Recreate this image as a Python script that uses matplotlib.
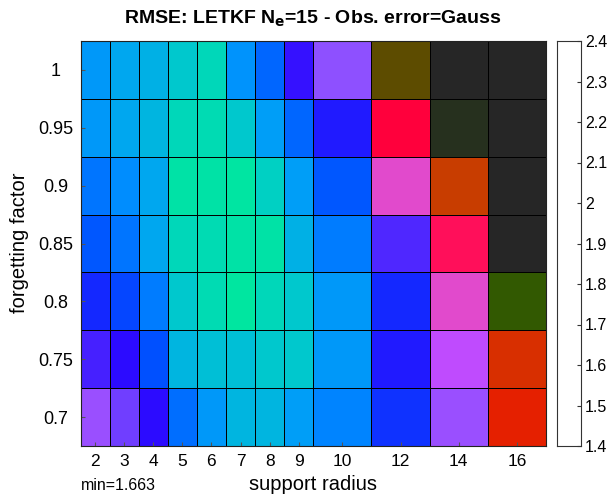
import numpy as np
import matplotlib
matplotlib.use("Agg")
import matplotlib.pyplot as plt
from matplotlib.colors import LinearSegmentedColormap, Normalize

plt.rcParams['font.family'] = ['Liberation Sans', 'DejaVu Sans']

radius = [2, 3, 4, 5, 6, 7, 8, 9, 10, 12, 14, 16]
forget = [1, 0.95, 0.9, 0.85, 0.8, 0.75, 0.7]

rmse = np.array([
    [1.84, 1.81, 1.79, 1.74, 1.70, 1.85, 1.91, 2.03, 2.10, 2.38, 2.50, 2.50],
    [1.84, 1.81, 1.78, 1.70, 1.69, 1.74, 1.83, 1.91, 2.00, 2.26, 2.46, 2.50],
    [1.89, 1.86, 1.81, 1.67, 1.67, 1.665, 1.72, 1.83, 1.93, 2.18, 2.34, 2.50],
    [1.93, 1.89, 1.81, 1.70, 1.69, 1.67, 1.67, 1.79, 1.88, 2.06, 2.22, 2.50],
    [1.98, 1.95, 1.88, 1.74, 1.69, 1.663, 1.70, 1.74, 1.84, 1.98, 2.18, 2.42],
    [2.05, 2.02, 1.94, 1.78, 1.76, 1.76, 1.74, 1.74, 1.84, 2.00, 2.14, 2.32],
    [2.11, 2.08, 2.02, 1.90, 1.84, 1.78, 1.78, 1.83, 1.87, 1.97, 2.11, 2.30],
])

cbar_ticks = [1.4, 1.5, 1.6, 1.7, 1.8, 1.9, 2.0, 2.1, 2.2, 2.3, 2.4]
cbar_labels = ['1.4', '1.5', '1.6', '1.7', '1.8', '1.9', '2', '2.1', '2.2', '2.3', '2.4']

# custom colour map (value, rgb)
anchors = [
    (1.66, (0, 230, 160)), (1.70, (0, 215, 185)), (1.74, (0, 200, 205)),
    (1.78, (0, 180, 225)), (1.82, (0, 162, 245)), (1.86, (0, 140, 255)),
    (1.90, (0, 110, 255)), (1.94, (0, 80, 255)), (1.98, (20, 40, 255)),
    (2.02, (45, 10, 255)), (2.06, (80, 40, 255)), (2.10, (140, 80, 255)),
    (2.14, (190, 75, 255)), (2.18, (225, 75, 205)), (2.22, (255, 15, 90)),
    (2.26, (255, 0, 60)), (2.30, (230, 30, 0)), (2.34, (205, 60, 0)),
    (2.38, (95, 75, 0)), (2.42, (50, 90, 0)), (2.46, (38, 48, 30)),
    (2.50, (38, 38, 38)),
]
vmin, vmax = anchors[0][0], anchors[-1][0]
cmap = LinearSegmentedColormap.from_list(
    'custom', [((v - vmin) / (vmax - vmin), tuple(c / 255 for c in col)) for v, col in anchors])

fig = plt.figure(figsize=(6.1, 4.95), dpi=100)
ax = fig.add_axes([80.5 / 610, 1 - 446 / 495, (546 - 80.5) / 610, (446 - 41) / 495])

widths = [1 if r < 10 else 2 for r in radius]
xedges = np.concatenate([[0], np.cumsum(widths)])
xcent = (xedges[:-1] + xedges[1:]) / 2
yedges = np.arange(len(forget) + 1)
ycent = yedges[:-1] + 0.5

ax.pcolormesh(xedges, yedges, rmse, cmap=cmap, norm=Normalize(vmin, vmax),
              edgecolors='black', linewidth=0.6)
ax.set_xlim(xedges[0], xedges[-1])
ax.set_ylim(yedges[-1], yedges[0])
ax.set_xticks(xcent)
ax.set_xticklabels([str(r) for r in radius], fontsize=12.5)
ax.set_yticks(ycent)
ax.set_yticklabels([('%g' % f) for f in forget], fontsize=13, ha='center')
ax.tick_params(direction='in', length=3, color='#555555')
ax.tick_params(axis='x', pad=6)
ax.tick_params(axis='y', pad=18)
for s in ax.spines.values():
    s.set_color('#222222')
    s.set_linewidth(0.8)
fig.text(313 / 610, 1 - 485 / 495, 'support radius', fontsize=14.5, ha='center', va='center')
fig.text(20 / 610, 1 - 243 / 495, 'forgetting factor', fontsize=14.5, ha='center', va='center',
         rotation=90)
fig.text(313 / 610, 1 - 19 / 495, r'RMSE: LETKF N$_{\mathbf{e}}$=15 - Obs. error=Gauss',
         fontsize=14, fontweight='bold', ha='center', va='center')
fig.text(81 / 610, 1 - 486 / 495, 'min=1.663', fontsize=11.5, va='center', ha='left')

cax = fig.add_axes([557 / 610, 1 - 446 / 495, 24 / 610, (446 - 41) / 495])
cax.set_facecolor('white')
cax.set_xticks([])
cax.set_ylim(1.4, 2.4)
cax.yaxis.tick_right()
cax.set_yticks(cbar_ticks)
cax.set_yticklabels(cbar_labels, fontsize=11.5)
cax.tick_params(direction='in', length=3, color='#333333', pad=3)
for s in cax.spines.values():
    s.set_color('#333333')
    s.set_linewidth(0.8)

fig.savefig('out.png', dpi=100)
